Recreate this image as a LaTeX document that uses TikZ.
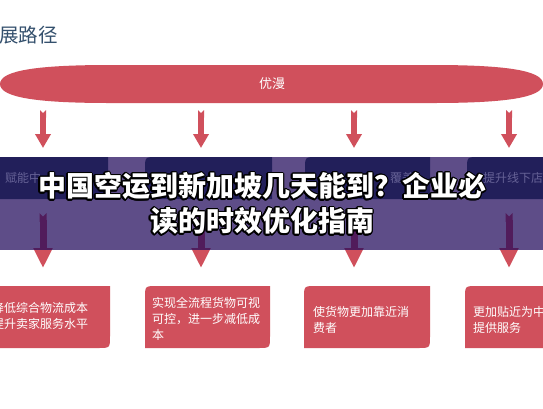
\documentclass[tikz,border=0pt]{standalone}
\usepackage{fontspec}
\setmainfont{Noto Sans CJK SC}
\newfontfamily\heavycjk{Noto Sans CJK SC Black}
\usepackage{contour}
\usetikzlibrary{arrows.meta}
\definecolor{roamred}{RGB}{208,80,92}
\definecolor{veilplum}{RGB}{33,9,91}
\definecolor{navybox}{RGB}{34,31,90}
\definecolor{ghostgray}{RGB}{102,98,150}
\definecolor{slatehead}{RGB}{52,80,109}
\contourlength{1.4pt}

\begin{document}
\begin{tikzpicture}[x=1pt, y=-1pt,
  dnarr/.style={{Triangle Cap[reversed]}-{Triangle[width=15pt,length=14pt]}, line width=6pt, roamred},
  bigarr/.style={{Triangle Cap[reversed]}-{Triangle[width=18pt,length=20pt]}, line width=7pt, roamred},
  boxtxt/.style={anchor=north west, inner sep=0pt, text=white, font=\fontsize{12}{16}\selectfont, align=left},
  ghost/.style={anchor=west, inner sep=0pt, text=ghostgray, font=\fontsize{12}{14}\selectfont}]
  \useasboundingbox[fill=white] (0,0) rectangle (543,408);

  % heading, cut at the left edge
  \node[anchor=west, inner sep=0pt, text=slatehead, font=\fontsize{19.5}{22}\selectfont] (head) at (-1,35) {展路径};

  % long red band
  \fill[roamred] (0,84) .. controls (0,70) and (40,65) .. (110,65) -- (433,65)
    .. controls (503,65) and (543,70) .. (543,84) .. controls (543,98) and (503,103) .. (433,103)
    -- (110,103) .. controls (40,103) and (0,98) .. (0,84) -- cycle;
  \node[text=white, font=\fontsize{13}{15}\selectfont] (roam) at (272,84) {优漫};

  % arrows
  \foreach \i/\x in {1/43,2/201,3/354,4/509} {
    \coordinate (top\i) at (\x,110);
    \coordinate (mid\i) at (\x,148);
    \coordinate (low\i) at (\x,213);
    \coordinate (end\i) at (\x,268);
    \draw[dnarr] (top\i) -- (mid\i);
    \draw[bigarr] (low\i) -- (end\i);
  }

  % red boxes
  \foreach \l/\r in {-16/110,145/270,304/430,465/591}
    \fill[roamred] (\l,348) -- (\l,298) .. controls (\l,286) .. (\l+12,286) -- (\r,286)
      -- (\r,336) .. controls (\r,348) .. (\r-12,348) -- cycle;
  \node[boxtxt] (goal1) at (-8,302) {降低综合物流成本\\提升卖家服务水平};
  \node[boxtxt] (goal2) at (152,297) {实现全流程货物可视\\可控，进一步减低成\\本};
  \node[boxtxt] (goal3) at (313,306) {使货物更加靠近消\\费者};
  \node[boxtxt] (goal4) at (473,306) {更加贴近为中\\提供服务};

  % banner over the middle
  \fill[veilplum, opacity=.72] (0,157) rectangle (543,250);
  \foreach \l/\r in {-16/108,145/272,305/430,467/591}
    \fill[navybox] (\l,199) -- (\l,169) .. controls (\l,157) .. (\l+12,157) -- (\r,157) -- (\r,199) -- cycle;
  \node[ghost] (ghost1) at (5,178) {赋能中};
  \node[ghost] (ghost3) at (390,178) {覆盖};
  \node[ghost] (ghost4) at (483,178) {提升线下店};

  \node[text=white, align=center, inner sep=0pt, font=\fontsize{28}{35}\heavycjk] (guide) at (262,204.5)
    {\contour{black}{中国空运到新加坡几天能到？企业必}\\\contour{black}{读的时效优化指南}};
\end{tikzpicture}
\end{document}
